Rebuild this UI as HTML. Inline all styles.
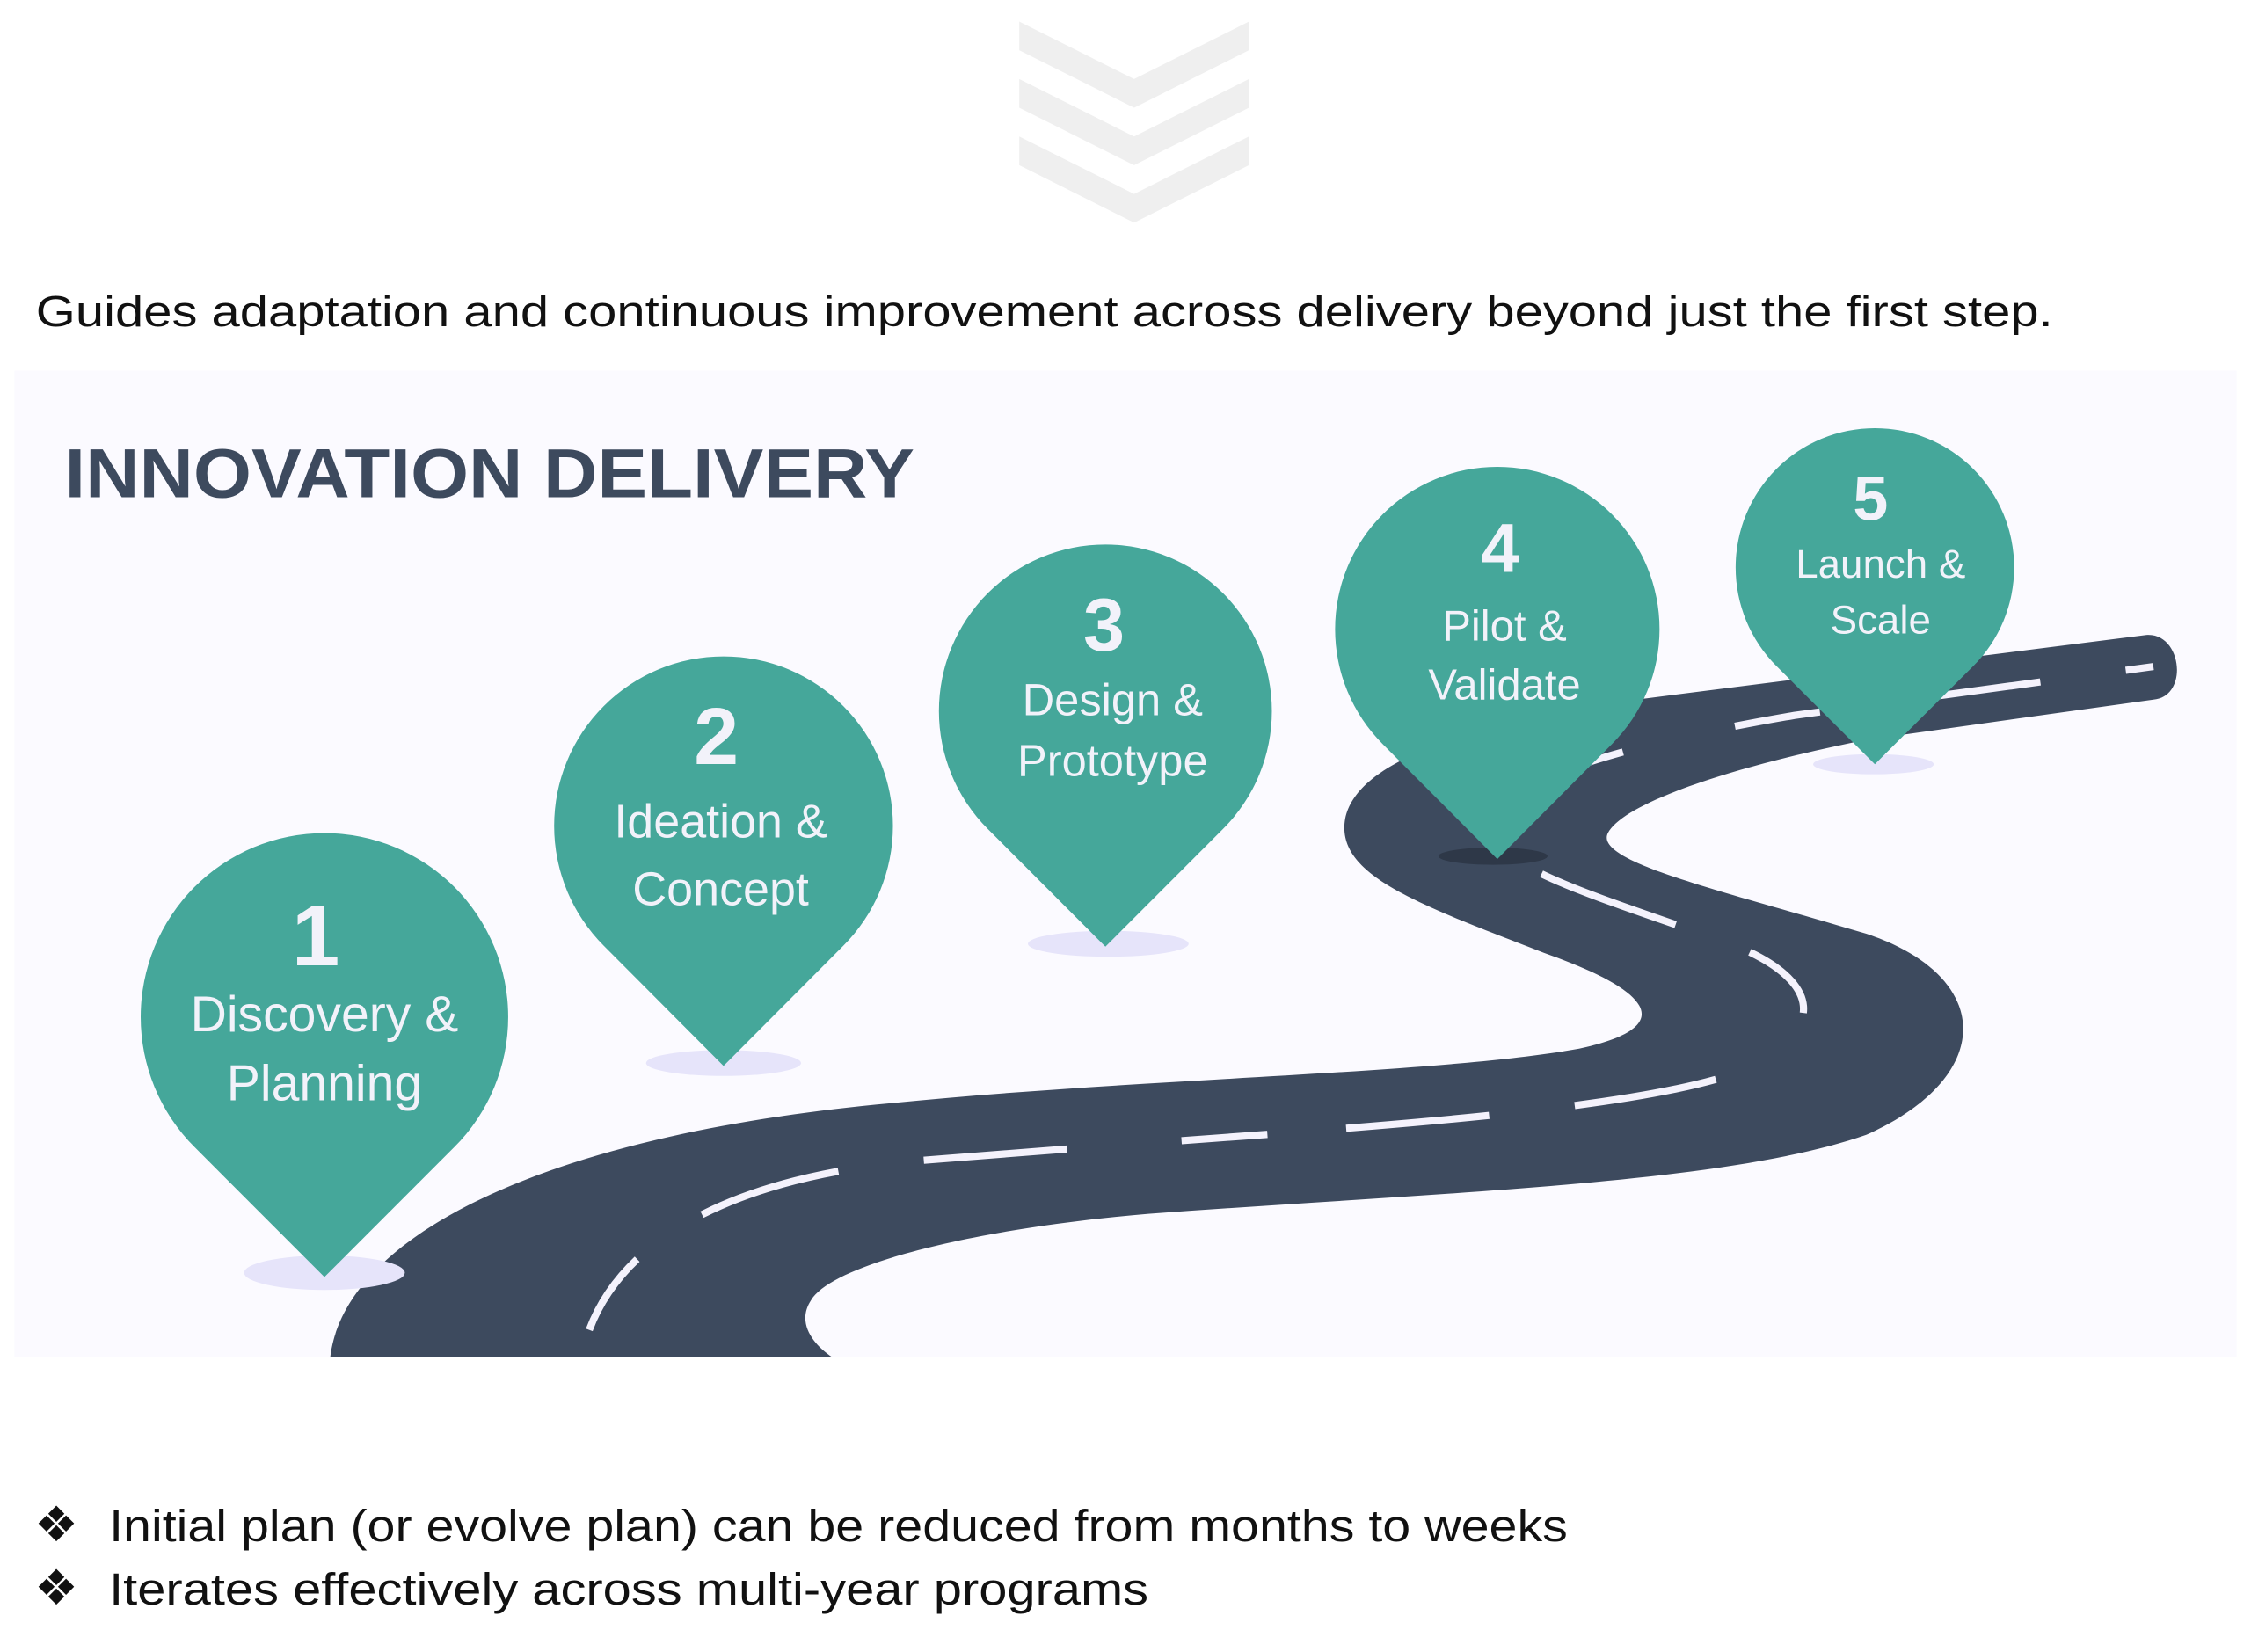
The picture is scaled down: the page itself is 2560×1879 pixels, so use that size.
<!DOCTYPE html>
<html><head><meta charset="utf-8"><style>html,body{margin:0;padding:0;background:#fff}svg{display:block}</style></head>
<body>
<svg width="2560" height="1879" viewBox="0 0 1568 1150" preserveAspectRatio="none" xmlns="http://www.w3.org/2000/svg" font-family="Liberation Sans, sans-serif">
<rect width="1568" height="1150" fill="#fff"/>
<g fill="#efefef">
<polygon points="710,15 790,55 870,15 870,35 790,75 710,35"/>
<polygon points="710,55 790,95 870,55 870,75 790,115 710,75"/>
<polygon points="710,95 790,135 870,95 870,115 790,155 710,115"/>
</g>
<text x="25" y="227" font-size="30" fill="#111" textLength="1405" lengthAdjust="spacingAndGlyphs">Guides adaptation and continuous improvement across delivery beyond just the first step.</text>
<rect x="10" y="258" width="1548" height="687" fill="#fbfaff"/>
<text x="45" y="346" font-size="48" font-weight="bold" fill="#3d4a5e" textLength="592" lengthAdjust="spacingAndGlyphs">INNOVATION DELIVERY</text>
<path d="M230,945 C240,860 380,790 620,768 C800,750 1000,748 1100,730 C1170,715 1150,690 1080,665 C990,630 930,610 937,570 C945,530 1020,505 1140,487 L1495,442 C1520,440 1525,485 1500,487 L1300,515 C1200,535 1130,560 1120,580 C1110,600 1200,620 1300,650 C1390,680 1390,750 1300,790 C1200,825 1000,830 800,845 C680,855 580,880 565,905 C555,920 565,935 580,945 Z" fill="#3d4a5e"/>
<path d="M405,945 C420,870 500,820 640,808 C850,790 1100,780 1200,750 C1280,720 1270,680 1200,655 C1100,620 1030,600 1040,570 C1050,540 1150,515 1250,498 L1500,464" fill="none" stroke="#f4f2fc" stroke-width="5" stroke-dasharray="0,20 60,55 100,60 100,60"/>
<g>
<ellipse cx="226" cy="886" rx="56" ry="12" fill="#e6e4fa"/>
<ellipse cx="504" cy="740" rx="54" ry="9" fill="#e6e4fa"/>
<ellipse cx="772" cy="657" rx="56" ry="9" fill="#e6e4fa"/>
<ellipse cx="1040" cy="596" rx="38" ry="6" fill="#2e3848"/>
<ellipse cx="1305" cy="532" rx="42" ry="7" fill="#e6e4fa"/>
</g>
<g fill="#45a79a">
<path d="M135.5,798.5 A128,128 0 1 1 316.5,798.5 L226,889 Z"/>
<path d="M420.6,658.4 A118,118 0 1 1 587.4,658.4 L504,742 Z"/>
<path d="M688,577 A116,116 0 1 1 852,577 L770,659 Z"/>
<path d="M963.1,517.9 A113,113 0 1 1 1122.9,517.9 L1043,598 Z"/>
<path d="M1237.4,463.6 A97,97 0 1 1 1374.6,463.6 L1306,532 Z"/>
</g>
<g fill="#f2f2fa" text-anchor="middle">
<text x="220" y="672" font-size="60" font-weight="bold">1</text>
<text x="226" y="718" font-size="35">Discovery &amp;</text>
<text x="226" y="766" font-size="35">Planning</text>
<text x="499" y="532" font-size="56" font-weight="bold">2</text>
<text x="502" y="583" font-size="33">Ideation &amp;</text>
<text x="502" y="630" font-size="33">Concept</text>
<text x="769" y="453" font-size="52" font-weight="bold">3</text>
<text x="775" y="498" font-size="31">Design &amp;</text>
<text x="775" y="540" font-size="31">Prototype</text>
<text x="1045" y="398" font-size="48" font-weight="bold">4</text>
<text x="1048" y="446" font-size="30">Pilot &amp;</text>
<text x="1048" y="487" font-size="30">Validate</text>
<text x="1303" y="362" font-size="44" font-weight="bold">5</text>
<text x="1310" y="402" font-size="28">Launch &amp;</text>
<text x="1310" y="441" font-size="28">Scale</text>
</g>
<g fill="#111" font-size="31">
<text x="24" y="1073" font-family="DejaVu Sans, sans-serif" font-size="34">❖</text>
<text x="76" y="1073" textLength="1016" lengthAdjust="spacingAndGlyphs">Initial plan (or evolve plan) can be reduced from months to weeks</text>
<text x="24" y="1117" font-family="DejaVu Sans, sans-serif" font-size="34">❖</text>
<text x="76" y="1117" textLength="724" lengthAdjust="spacingAndGlyphs">Iterates effectively across multi-year programs</text>
</g>
</svg>
</body></html>
